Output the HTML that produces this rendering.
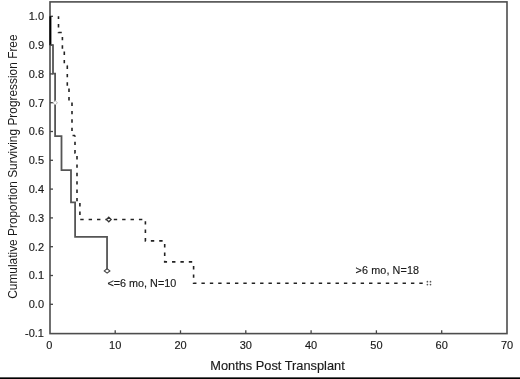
<!DOCTYPE html>
<html>
<head>
<meta charset="utf-8">
<style>
html,body{margin:0;padding:0;background:#fff;}
body{width:520px;height:379px;overflow:hidden;position:relative;font-family:"Liberation Sans",sans-serif;}
svg{position:absolute;left:0;top:0;filter:grayscale(1);}
text{font-family:"Liberation Sans",sans-serif;fill:#1a1a1a;stroke:#1a1a1a;stroke-width:0.15px;}
</style>
</head>
<body>
<svg width="520" height="379" viewBox="0 0 520 379">
  <rect x="0" y="0" width="520" height="379" fill="#fff"/>
  <rect x="50" y="1.9" width="457" height="331.7" fill="none" stroke="#4d4d4d" stroke-width="1.6"/>
  <g stroke="#444" stroke-width="1.3">
    <line x1="50" y1="304.3" x2="53" y2="304.3"/>
    <line x1="50" y1="275.5" x2="53" y2="275.5"/>
    <line x1="50" y1="246.7" x2="53" y2="246.7"/>
    <line x1="50" y1="217.9" x2="53" y2="217.9"/>
    <line x1="50" y1="189.1" x2="53" y2="189.1"/>
    <line x1="50" y1="160.3" x2="53" y2="160.3"/>
    <line x1="50" y1="131.5" x2="53" y2="131.5"/>
    <line x1="50" y1="102.7" x2="53" y2="102.7"/>
    <line x1="50" y1="73.9" x2="53" y2="73.9"/>
    <line x1="50" y1="45.1" x2="53" y2="45.1"/>
    <line x1="50" y1="16.3" x2="53" y2="16.3"/>
  </g>
  <g stroke="#444" stroke-width="1.3">
    <line x1="115.2" y1="333.5" x2="115.2" y2="330.3"/>
    <line x1="180.5" y1="333.5" x2="180.5" y2="330.3"/>
    <line x1="245.8" y1="333.5" x2="245.8" y2="330.3"/>
    <line x1="311.1" y1="333.5" x2="311.1" y2="330.3"/>
    <line x1="376.4" y1="333.5" x2="376.4" y2="330.3"/>
    <line x1="441.7" y1="333.5" x2="441.7" y2="330.3"/>
  </g>
  <g font-size="11" text-anchor="end">
    <text x="44.0" y="20.2">1.0</text>
    <text x="44.0" y="49.0">0.9</text>
    <text x="44.0" y="77.8">0.8</text>
    <text x="44.0" y="106.6">0.7</text>
    <text x="44.0" y="135.4">0.6</text>
    <text x="44.0" y="164.2">0.5</text>
    <text x="44.0" y="193.0">0.4</text>
    <text x="44.0" y="221.8">0.3</text>
    <text x="44.0" y="250.6">0.2</text>
    <text x="44.0" y="279.4">0.1</text>
    <text x="44.0" y="308.2">0.0</text>
    <text x="44.0" y="337.0">-0.1</text>
  </g>
  <g font-size="11" text-anchor="middle">
    <text x="49.4" y="348.6">0</text>
    <text x="115.2" y="348.6">10</text>
    <text x="180.5" y="348.6">20</text>
    <text x="245.8" y="348.6">30</text>
    <text x="311.1" y="348.6">40</text>
    <text x="376.4" y="348.6">50</text>
    <text x="441.7" y="348.6">60</text>
    <text x="507.0" y="348.6">70</text>
  </g>
  <text x="277.5" y="369.7" font-size="12.8" text-anchor="middle">Months Post Transplant</text>
  <text transform="translate(16.6,166.6) rotate(-90)" x="0" y="0" font-size="11.9" text-anchor="middle" style="stroke:none">Cumulative Proportion Surviving Progression Free</text>
  <path d="M50.4 16.3 V45.2" fill="none" stroke="#000" stroke-width="2"/>
  <path d="M50.4 45.2 H53 V73.7 H55.1 V136.1 H61.5 V170.1 H71 V202.4 H75.1 V236.9 H107.05 V269" fill="none" stroke="#555" stroke-width="1.8"/>
  <g fill="none" stroke="#222" stroke-width="1.6" stroke-dasharray="3.4 4.98">
    <path d="M58.5 16.3 V32.5 H62.4" stroke-dashoffset="0.70"/>
    <path d="M62.4 32.5 V49.5 H64.3" stroke-dashoffset="3.98"/>
    <path d="M64.3 49.5 V65.5 H67.3" stroke-dashoffset="6.38"/>
    <path d="M67.3 65.5 V86 H69" stroke-dashoffset="0.00"/>
    <path d="M69 86 V101 H72" stroke-dashoffset="5.78"/>
    <path d="M72 101 V135.5 H75" stroke-dashoffset="6.88"/>
    <path d="M75 135.5 V153 H77" stroke-dashoffset="2.18"/>
    <path d="M77 153 V202 H79.9" stroke-dashoffset="5.38"/>
    <path d="M79.9 202 V219.5 H145.4" stroke-dashoffset="7.28"/>
    <path d="M145.4 219.5 V240.9 H164.7" stroke-dashoffset="6.68"/>
    <path d="M164.7 240.9 V261.9 H193.6" stroke-dashoffset="5.18"/>
    <path d="M193.6 261.9 V283.3 H424.5" stroke-dashoffset="4.28"/>
  </g>
  <path d="M55.2 100.6 L57.4 102.8 L55.2 105 L53 102.8 Z" fill="#fff" stroke="#aaa" stroke-width="0.9"/>
  <path d="M104.3 270.9 L107.1 268.7 L109.9 270.9 L107.1 273.1 Z" fill="#fff" stroke="#444" stroke-width="1.1"/>
  <path d="M108.8 217.2 L111.2 219.5 L108.8 221.8 L106.4 219.5 Z" fill="#fff" stroke="#333" stroke-width="1.2"/>
  <g fill="#585858">
    <circle cx="427.4" cy="281.7" r="0.85"/><circle cx="430.5" cy="281.7" r="0.85"/>
    <circle cx="427.4" cy="284.6" r="0.85"/><circle cx="430.5" cy="284.6" r="0.85"/>
  </g>
  <text x="107.5" y="287.3" font-size="10.8">&lt;=6 mo, N=10</text>
  <text x="355.6" y="274.4" font-size="10.8" letter-spacing="0.1">&gt;6 mo, N=18</text>
  <rect x="0" y="377" width="520" height="1" fill="#5a5a5a"/>
  <rect x="0" y="378" width="520" height="1" fill="#000"/>
</svg>
</body>
</html>
